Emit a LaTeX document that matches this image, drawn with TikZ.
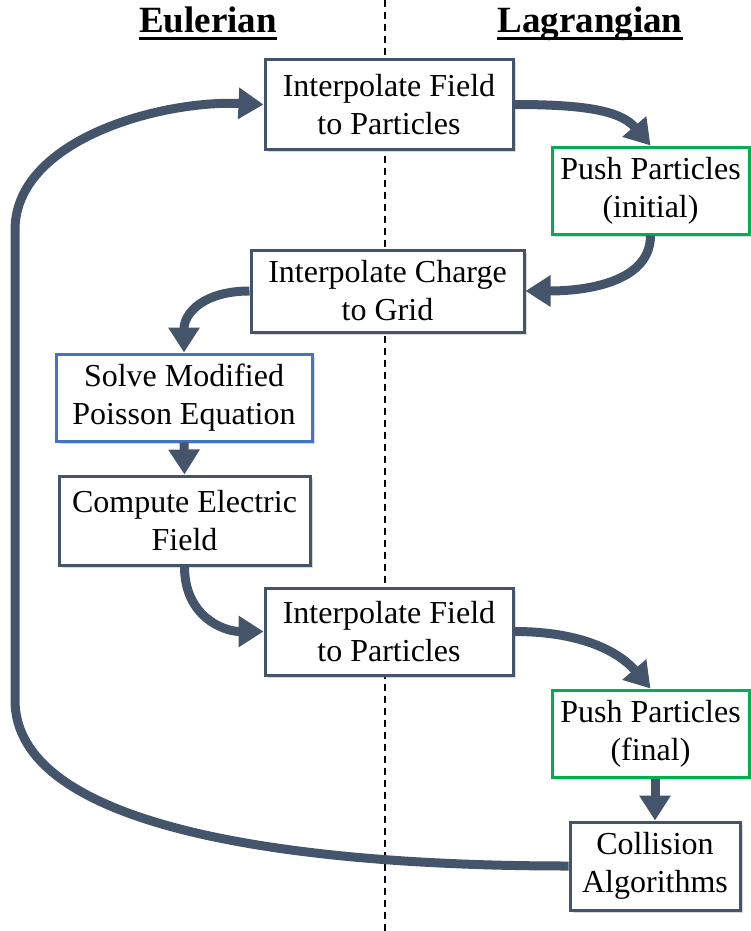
\documentclass[tikz,border=0pt]{standalone}
\usepackage{fontspec}
\setmainfont{Liberation Serif}
\usetikzlibrary{arrows.meta,shadows}
\definecolor{slate}{HTML}{44546A}
\definecolor{pgreen}{HTML}{00B050}
\definecolor{pblue}{HTML}{4472C4}

\begin{document}
\begin{tikzpicture}[x=1pt,y=-1pt,
  stepbox/.style={draw=slate, line width=3pt, fill=white, inner sep=0pt,
    align=center, font=\fontsize{32}{38}\selectfont,
    drop shadow={opacity=0.3, shadow xshift=2.5pt, shadow yshift=-2.5pt}},
  pushbox/.style={stepbox, draw=pgreen},
  solvebox/.style={stepbox, draw=pblue},
  flow/.style={draw=slate, line width=9pt,
    -{Triangle[width=30pt,length=25pt]}},
  heading/.style={inner sep=0pt, font=\fontsize{37}{40}\selectfont\bfseries},
]
\useasboundingbox (0,0) rectangle (750,931);

% column divider
\draw[line width=1.3pt, dash pattern=on 7pt off 5pt] (385,0) -- (385,931);

% column headings
\node[heading, anchor=base] (eul) at (208,33) {Eulerian};
\node[heading, anchor=base] (lag) at (590,33) {Lagrangian};
\draw[line width=3pt] ([yshift=-6pt]eul.base west) -- ([yshift=-6pt]eul.base east);
\draw[line width=3pt] ([yshift=-6pt]lag.base west) -- ([yshift=-6pt]lag.base east);

% steps of the cycle
\node[stepbox, minimum width=248pt, minimum height=89pt] (if1) at (389,104.5)
  {Interpolate Field\\to Particles};
\node[pushbox, minimum width=197pt, minimum height=87pt] (pp1) at (650.5,190.5)
  {Push Particles\\(initial)};
\node[stepbox, minimum width=273pt, minimum height=82pt] (ic) at (387.5,291)
  {Interpolate Charge\\to Grid};
\node[solvebox, minimum width=256pt, minimum height=87pt] (sm) at (184,397.5)
  {Solve Modified\\Poisson Equation};
\node[stepbox, minimum width=251pt, minimum height=89pt] (ce) at (184.5,520.5)
  {Compute Electric\\Field};
\node[stepbox, minimum width=248pt, minimum height=87pt] (if2) at (389,631.5)
  {Interpolate Field\\to Particles};
\node[pushbox, minimum width=197pt, minimum height=87pt] (pp2) at (650.5,733.5)
  {Push Particles\\(final)};
\node[stepbox, minimum width=170pt, minimum height=88pt] (ca) at (655,866)
  {Collision\\Algorithms};

% connectors
\draw[flow] (if1.east) .. controls +(70,0) and +(-30,-35) .. (pp1.north);
\draw[flow] (pp1.south) .. controls +(0,45) and +(65,0) .. (ic.east);
\draw[flow] (ic.west) .. controls +(-45,0) and +(0,-40) .. (sm.north);
\draw[flow] (sm.south) -- (ce.north);
\draw[flow] (ce.south) .. controls +(0,50) and +(-40,0) .. (if2.west);
\draw[flow] (if2.east) .. controls +(70,0) and +(-30,-35) .. (pp2.north);
\draw[flow] (ca.north |- pp2.south) -- (ca.north);

% return loop to the start of the cycle
\coordinate (lowbend) at (15,700);
\coordinate (highbend) at (15,230);
\draw[flow] (ca.west) .. controls (300,866) and (15,830) .. (lowbend)
  -- (highbend) .. controls (15,140) and (160,100) .. (if1.west);
\end{tikzpicture}
\end{document}
